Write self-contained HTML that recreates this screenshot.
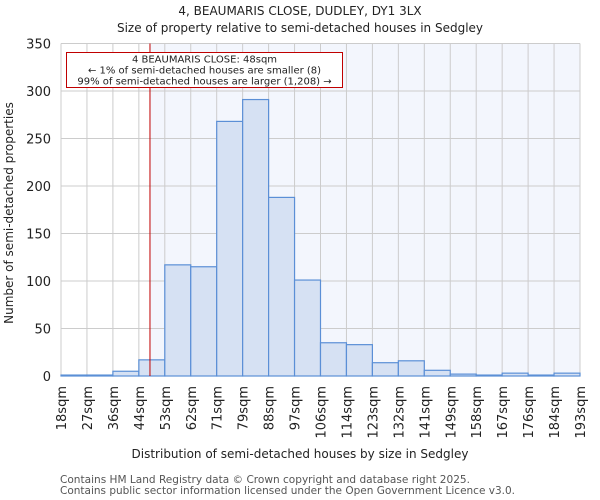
<!DOCTYPE html>
<html><head><meta charset="utf-8"><style>
html,body{margin:0;padding:0;background:#fff;}
svg{display:block;font-family:"DejaVu Sans","Liberation Sans",sans-serif;}
</style></head><body>
<svg id="chart" width="600" height="500" viewBox="0 0 600 500">
<text x="300" y="15" text-anchor="middle" font-size="12" fill="#222">4, BEAUMARIS CLOSE, DUDLEY, DY1 3LX</text>
<text x="300" y="32" text-anchor="middle" font-size="12" fill="#222">Size of property relative to semi-detached houses in Sedgley</text>
<g id="plot"></g>
<text x="300" y="458" text-anchor="middle" font-size="12" fill="#222">Distribution of semi-detached houses by size in Sedgley</text>
<text transform="translate(13,213) rotate(-90)" text-anchor="middle" font-size="12" fill="#222">Number of semi-detached properties</text>
<text x="60" y="483" font-size="10.5" fill="#555" textLength="410" lengthAdjust="spacingAndGlyphs">Contains HM Land Registry data © Crown copyright and database right 2025.</text>
<text x="60" y="494" font-size="10.5" fill="#555" textLength="455" lengthAdjust="spacingAndGlyphs">Contains public sector information licensed under the Open Government Licence v3.0.</text>
</svg>
<script>
const categories=["18sqm","27sqm","36sqm","44sqm","53sqm","62sqm","71sqm","79sqm","88sqm","97sqm","106sqm","114sqm","123sqm","132sqm","141sqm","149sqm","158sqm","167sqm","176sqm","184sqm","193sqm"];
const counts=[1,1,5,17,117,115,268,291,188,101,35,33,14,16,6,2,1,3,1,3];
const yTicks=[0,50,100,150,200,250,300,350];
const binStart=18, binWidth=8.75;
const propertySize=48;
const L=61,R=580,T=43.5,B=376,yMax=350;
const nb=counts.length;
const x=i=>L+(R-L)*i/nb;
const xv=v=>L+(R-L)*(v-binStart)/(binWidth*nb);
const y=v=>B-(B-T)*v/yMax;
const NS="http://www.w3.org/2000/svg";
const g=document.getElementById('plot');
function mk(t,a){const e=document.createElementNS(NS,t);for(const k in a)e.setAttribute(k,a[k]);g.appendChild(e);return e;}
const px=xv(propertySize);
let e=mk('rect',{x:px,y:T,width:R-px,height:B-T,fill:'#f3f6fd'});


for(let i=0;i<=nb;i++){e=mk('line',{x1:x(i),x2:x(i),y1:T,y2:B,stroke:'#cccccc','stroke-width':1});

}
yTicks.forEach(t=>{e=mk('line',{x1:L,x2:R,y1:y(t),y2:y(t),stroke:'#cccccc','stroke-width':1});


e=mk('text',{x:L-10,y:y(t)+5,'text-anchor':'end','font-size':13,fill:'#222'});e.textContent=t;

});
counts.forEach((c,i)=>{e=mk('rect',{x:x(i),y:y(c),width:x(i+1)-x(i),height:B-y(c),fill:'#d6e1f3',stroke:'#5b8fd6','stroke-width':1.2});

});
categories.forEach((c,i)=>{const xx=x(i);e=mk('text',{transform:`translate(${xx+5},${B+10}) rotate(-90)`,'text-anchor':'end','font-size':13,fill:'#222'});e.textContent=c;

});
e=mk('line',{x1:px,x2:px,y1:T,y2:B,stroke:'#c00000','stroke-width':1});


e=mk('rect',{x:66.5,y:52.5,width:276,height:35,fill:'#fff',stroke:'#c00000','stroke-width':1});


["4 BEAUMARIS CLOSE: 48sqm","← 1% of semi-detached houses are smaller (8)","99% of semi-detached houses are larger (1,208) →"].forEach((s,i)=>{e=mk('text',{x:204.5,y:62.5+i*11,'text-anchor':'middle','font-size':10,fill:'#222'});e.textContent=s;

});
</script>
</body></html>
